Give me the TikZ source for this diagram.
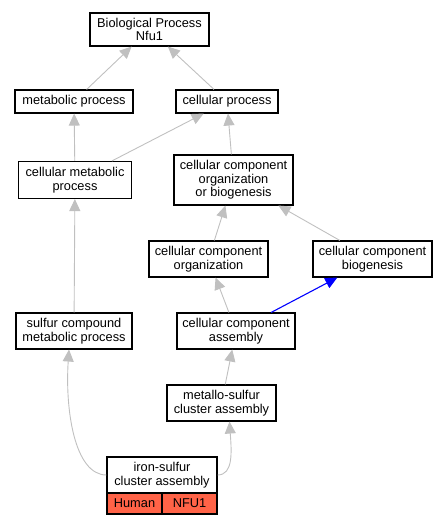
\documentclass[tikz,border=0pt]{standalone}
\usepackage{fontspec}
\setmainfont{Liberation Sans}
\usetikzlibrary{arrows.meta}
\definecolor{edgegray}{RGB}{192,192,192}
\definecolor{hitred}{RGB}{255,99,71}

\begin{document}
\begin{tikzpicture}[x=1pt,y=-1pt,
  term/.style={draw,line width=1.1pt,align=center,inner sep=0pt,
    font=\fontsize{12.8}{13.4}\selectfont},
  isa/.style={draw=edgegray,line width=0.9pt,
    -{Triangle[length=12pt,width=11pt]}},
  part/.style={draw=blue,line width=1.1pt,
    -{Triangle[length=12pt,width=11pt]}}]
\useasboundingbox (0,0) rectangle (447,525);
\node[term,minimum width=119pt,minimum height=33pt] (bio) at (149.5,29.5) {Biological Process\\Nfu1};
\node[term,minimum width=118pt,minimum height=23pt] (met) at (74,101.5) {metabolic process};
\node[term,minimum width=102pt,minimum height=23pt] (cel) at (227,101.5) {cellular process};
\node[term,minimum width=113pt,minimum height=37pt] (cmp) at (75,180) {cellular metabolic\\process};
\node[term,minimum width=119pt,minimum height=50pt] (ccob) at (233.5,180) {cellular component\\organization\\or biogenesis};
\node[term,minimum width=119pt,minimum height=36pt] (cco) at (208.5,259) {cellular component\\organization};
\node[term,minimum width=119pt,minimum height=36pt] (ccb) at (372.5,259) {cellular component\\biogenesis};
\node[term,minimum width=116pt,minimum height=36pt] (sul) at (74,331) {sulfur compound\\metabolic process};
\node[term,minimum width=118pt,minimum height=36pt] (cca) at (236,331) {cellular component\\assembly};
\node[term,minimum width=109pt,minimum height=36pt] (msa) at (221.5,403) {metallo-sulfur\\cluster assembly};
\node[term,minimum width=110pt,minimum height=36pt] (iron) at (162,475) {iron-sulfur\\cluster assembly};
\node[term,fill=hitred,minimum width=55pt,minimum height=21pt] (human) at (134.5,503.5) {Human};
\node[term,fill=hitred,minimum width=55pt,minimum height=21pt] (nfu) at (189.5,503.5) {NFU1};
\draw[isa] (met) -- (bio);
\draw[isa] (cel) -- (bio);
\draw[isa] (cmp) -- (met);
\draw[isa] (cmp) -- (cel);
\draw[isa] (ccob) -- (cel);
\draw[isa] (cco) -- (ccob);
\draw[isa] (ccb) -- (ccob);
\draw[isa] (cca) -- (cco);
\draw[part] (cca) -- (ccb);
\draw[isa] (sul) -- (cmp);
\draw[isa] (msa) -- (cca);
\draw[isa] (iron.west) .. controls +(-32,0) and +(-4,60) .. ([xshift=-5pt]sul.south);
\draw[isa] (iron.east) .. controls +(16,0) and +(2,30) .. ([xshift=8pt]msa.south);
\end{tikzpicture}
\end{document}
